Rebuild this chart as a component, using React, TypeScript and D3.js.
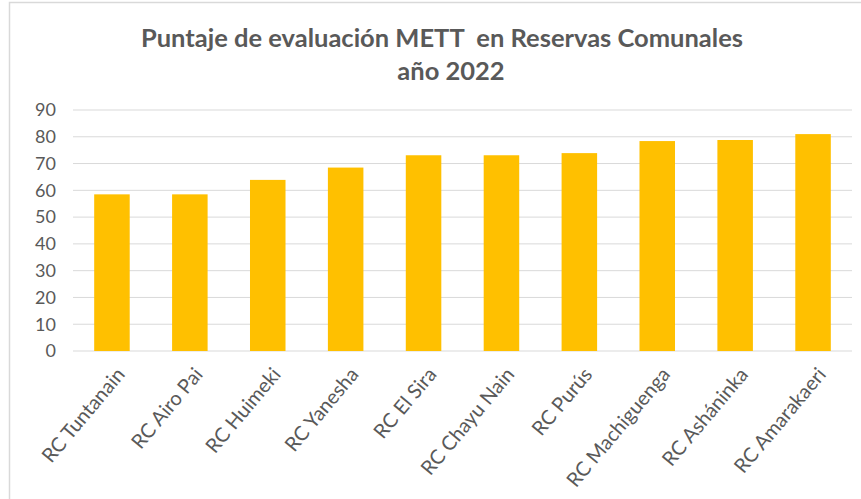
import React from "react";
import { scaleBand, scaleLinear } from "d3";

const categories = [
  "RC Tuntanain",
  "RC Airo Pai",
  "RC Huimeki",
  "RC Yanesha",
  "RC El Sira",
  "RC Chayu Nain",
  "RC Purús",
  "RC Machiguenga",
  "RC Asháninka",
  "RC Amarakaeri",
];
const scores = [58.5, 58.5, 63.9, 68.5, 73.1, 73.1, 73.9, 78.4, 78.8, 81.0];
const yTicks = [0, 10, 20, 30, 40, 50, 60, 70, 80, 90];
const titleLines = ["Puntaje de evaluación METT  en Reservas Comunales", "año 2022"];

const App = () => {
  const width = 861;
  const height = 499;
  const margin = { top: 110, right: 9, bottom: 148, left: 73 };
  const innerWidth = width - margin.left - margin.right;
  const innerHeight = height - margin.top - margin.bottom;
  const font = "Lato, 'Open Sans', sans-serif";
  const textColor = "#595959";

  const xScale = scaleBand()
    .domain(categories)
    .range([0, innerWidth])
    .paddingInner(0.544)
    .paddingOuter(0.272);

  const yScale = scaleLinear().domain([0, 90]).range([innerHeight, 0]);

  return (
    <svg
      width={width}
      height={height}
      style={{ position: "absolute", left: 0, top: 0, background: "#fff" }}
    >
      <rect x={9.5} y={2.5} width={900} height={600} fill="#fff" stroke="#d9d9d9" strokeWidth={1.5} />

      <g fill={textColor} fontFamily={font} fontWeight={700} fontSize={25.5} textAnchor="middle">
        <text x={442} y={47} style={{ whiteSpace: "pre" }}>{titleLines[0]}</text>
        <text x={451} y={80}>{titleLines[1]}</text>
      </g>

      <g transform={`translate(${margin.left},${margin.top})`}>
        {yTicks.map((t) => (
          <g key={t}>
            <line x1={0} x2={innerWidth} y1={yScale(t)} y2={yScale(t)} stroke="#d9d9d9" strokeWidth={1} />
            <text
              x={-17}
              y={yScale(t)}
              dy="0.35em"
              textAnchor="end"
              fontFamily={font}
              fontSize={18}
              fill={textColor}
            >
              {t}
            </text>
          </g>
        ))}

        {categories.map((c, i) => (
          <rect
            key={c}
            x={xScale(c)}
            y={yScale(scores[i])}
            width={xScale.bandwidth()}
            height={innerHeight - yScale(scores[i])}
            fill="#ffc000"
          />
        ))}

        {categories.map((c) => (
          <text
            key={c}
            transform={`translate(${(xScale(c) || 0) + xScale.bandwidth() / 2 + 14},${innerHeight + 24}) rotate(-50)`}
            textAnchor="end"
            fontFamily={font}
            fontSize={20}
            fill={textColor}
          >
            {c}
          </text>
        ))}
      </g>
    </svg>
  );
};

export default App;
